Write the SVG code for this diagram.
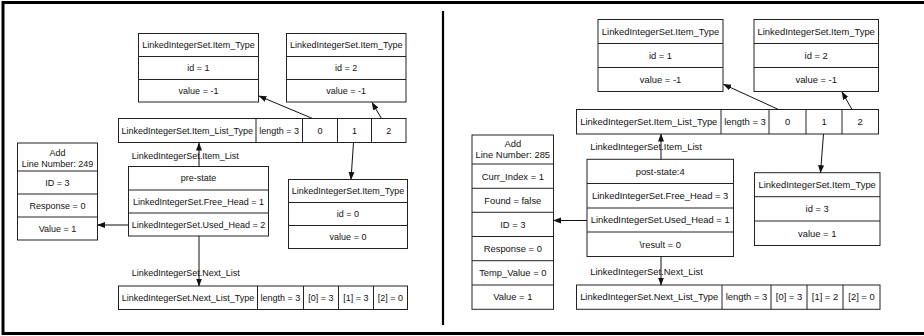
<svg xmlns="http://www.w3.org/2000/svg" width="924" height="336" viewBox="0 0 924 336">
<style>
rect.b{fill:#fff;stroke:#222;stroke-width:1}
line.d{stroke:#222;stroke-width:1}
text{font-family:"Liberation Sans",Arial,Helvetica,sans-serif;fill:#111;text-anchor:middle}
.L text{font-size:9px}
.R text{font-size:9.4px}
text.lbl{text-anchor:start}
.c line{stroke:#111;stroke-width:1;marker-end:url(#ah)}
</style>
<defs>
<marker id="ah" markerUnits="userSpaceOnUse" markerWidth="8" markerHeight="8" viewBox="0 0 8 8" refX="7.5" refY="4" orient="auto">
<path d="M0,1 L8,4 L0,7 Z" fill="#111"/>
</marker>
</defs>
<rect x="0" y="0" width="924" height="336" fill="#fff"/>
<rect x="3" y="2.5" width="930" height="331" fill="none" stroke="#000" stroke-width="3"/>
<line x1="443" y1="11" x2="443" y2="325" stroke="#000" stroke-width="2.2"/>

<g class="L">
<g id="l_item1">
<rect class="b" x="138.5" y="33.5" width="120" height="68.5"/>
<line class="d" x1="138.5" y1="56.5" x2="258.5" y2="56.5"/>
<line class="d" x1="138.5" y1="79.5" x2="258.5" y2="79.5"/>
<text x="198.5" y="48">LinkedIntegerSet.Item_Type</text>
<text x="198.5" y="71">id = 1</text>
<text x="198.5" y="94">value = -1</text>
</g>
<g id="l_item2">
<rect class="b" x="286.5" y="33.5" width="119.5" height="68.5"/>
<line class="d" x1="286.5" y1="56.5" x2="406" y2="56.5"/>
<line class="d" x1="286.5" y1="79.5" x2="406" y2="79.5"/>
<text x="346.2" y="48">LinkedIntegerSet.Item_Type</text>
<text x="346.2" y="71">id = 2</text>
<text x="346.2" y="94">value = -1</text>
</g>
<g id="l_itemlist">
<rect class="b" x="118.5" y="118.5" width="287.5" height="24"/>
<line class="d" x1="256" y1="118.5" x2="256" y2="142.5"/>
<line class="d" x1="302.5" y1="118.5" x2="302.5" y2="142.5"/>
<line class="d" x1="337.5" y1="118.5" x2="337.5" y2="142.5"/>
<line class="d" x1="371.5" y1="118.5" x2="371.5" y2="142.5"/>
<text x="187.2" y="133.8">LinkedIntegerSet.Item_List_Type</text>
<text x="279.2" y="133.8">length = 3</text>
<text x="320" y="133.8">0</text>
<text x="354.5" y="133.8">1</text>
<text x="388.8" y="133.8">2</text>
</g>
<g id="l_add">
<rect class="b" x="17.5" y="143" width="80" height="97"/>
<line class="d" x1="17.5" y1="171" x2="97.5" y2="171"/>
<line class="d" x1="17.5" y1="194" x2="97.5" y2="194"/>
<line class="d" x1="17.5" y1="217" x2="97.5" y2="217"/>
<text x="57.5" y="155.5">Add</text>
<text x="57.5" y="166.5">Line Number: 249</text>
<text x="57.5" y="185.5">ID = 3</text>
<text x="57.5" y="208.5">Response = 0</text>
<text x="57.5" y="231.5">Value = 1</text>
</g>
<g id="l_pre">
<rect class="b" x="128.5" y="166.5" width="140" height="69.5"/>
<line class="d" x1="128.5" y1="190" x2="268.5" y2="190"/>
<line class="d" x1="128.5" y1="213" x2="268.5" y2="213"/>
<text x="198.5" y="181.3">pre-state</text>
<text x="198.5" y="204.5">LinkedIntegerSet.Free_Head = 1</text>
<text x="198.5" y="227.5">LinkedIntegerSet.Used_Head = 2</text>
</g>
<g id="l_item0">
<rect class="b" x="288.5" y="179.5" width="119" height="69"/>
<line class="d" x1="288.5" y1="202.5" x2="407.5" y2="202.5"/>
<line class="d" x1="288.5" y1="225.5" x2="407.5" y2="225.5"/>
<text x="348" y="194">LinkedIntegerSet.Item_Type</text>
<text x="348" y="217">id = 0</text>
<text x="348" y="240">value = 0</text>
</g>
<g id="l_nextlist">
<rect class="b" x="118.5" y="286" width="289" height="23.5"/>
<line class="d" x1="257.5" y1="286" x2="257.5" y2="309.5"/>
<line class="d" x1="303.5" y1="286" x2="303.5" y2="309.5"/>
<line class="d" x1="338.5" y1="286" x2="338.5" y2="309.5"/>
<line class="d" x1="373.5" y1="286" x2="373.5" y2="309.5"/>
<text x="188" y="301">LinkedIntegerSet.Next_List_Type</text>
<text x="280.5" y="301">length = 3</text>
<text x="321" y="301">[0] = 3</text>
<text x="356" y="301">[1] = 3</text>
<text x="390.5" y="301">[2] = 0</text>
</g>
<g class="c" id="l_connectors">
<line x1="199" y1="166.5" x2="199" y2="143"/>
<line x1="312.5" y1="118.5" x2="259" y2="96"/>
<line x1="381.5" y1="118.5" x2="372" y2="102.5"/>
<line x1="353.5" y1="142.5" x2="351" y2="179.5"/>
<line x1="128.5" y1="225" x2="97.5" y2="225"/>
<line x1="199" y1="236" x2="199" y2="286"/>
<text class="lbl" x="131.7" y="159.2">LinkedIntegerSet.Item_List</text>
<text class="lbl" x="131.7" y="275.5">LinkedIntegerSet.Next_List</text>
</g>
</g>

<g class="R">
<g id="r_item1">
<rect class="b" x="598" y="19.5" width="125" height="72"/>
<line class="d" x1="598" y1="43.5" x2="723" y2="43.5"/>
<line class="d" x1="598" y1="67.5" x2="723" y2="67.5"/>
<text x="660.5" y="34.8">LinkedIntegerSet.Item_Type</text>
<text x="660.5" y="58.8">id = 1</text>
<text x="660.5" y="82.8">value = -1</text>
</g>
<g id="r_item2">
<rect class="b" x="754" y="19.5" width="124.5" height="72"/>
<line class="d" x1="754" y1="43.5" x2="878.5" y2="43.5"/>
<line class="d" x1="754" y1="67.5" x2="878.5" y2="67.5"/>
<text x="816.2" y="34.8">LinkedIntegerSet.Item_Type</text>
<text x="816.2" y="58.8">id = 2</text>
<text x="816.2" y="82.8">value = -1</text>
</g>
<g id="r_itemlist">
<rect class="b" x="576.5" y="109.5" width="302" height="24.5"/>
<line class="d" x1="721" y1="109.5" x2="721" y2="134"/>
<line class="d" x1="769" y1="109.5" x2="769" y2="134"/>
<line class="d" x1="806" y1="109.5" x2="806" y2="134"/>
<line class="d" x1="842" y1="109.5" x2="842" y2="134"/>
<text x="648.8" y="125">LinkedIntegerSet.Item_List_Type</text>
<text x="745" y="125">length = 3</text>
<text x="787.5" y="125">0</text>
<text x="824" y="125">1</text>
<text x="860.2" y="125">2</text>
</g>
<g id="r_add">
<rect class="b" x="472" y="135" width="81.5" height="174.3"/>
<line class="d" x1="472" y1="164" x2="553.5" y2="164"/>
<line class="d" x1="472" y1="188.3" x2="553.5" y2="188.3"/>
<line class="d" x1="472" y1="212.3" x2="553.5" y2="212.3"/>
<line class="d" x1="472" y1="236.5" x2="553.5" y2="236.5"/>
<line class="d" x1="472" y1="260.7" x2="553.5" y2="260.7"/>
<line class="d" x1="472" y1="285" x2="553.5" y2="285"/>
<text x="512.8" y="146.6">Add</text>
<text x="512.8" y="158.3">Line Number: 285</text>
<text x="512.8" y="179.5">Curr_Index = 1</text>
<text x="512.8" y="203.6">Found = false</text>
<text x="512.8" y="227.7">ID = 3</text>
<text x="512.8" y="251.9">Response = 0</text>
<text x="512.8" y="276.1">Temp_Value = 0</text>
<text x="512.8" y="300.4">Value = 1</text>
</g>
<g id="r_post">
<rect class="b" x="587" y="159.3" width="146.5" height="97.2"/>
<line class="d" x1="587" y1="183.5" x2="733.5" y2="183.5"/>
<line class="d" x1="587" y1="208" x2="733.5" y2="208"/>
<line class="d" x1="587" y1="232" x2="733.5" y2="232"/>
<text x="660.2" y="174.7">post-state:4</text>
<text x="660.2" y="199">LinkedIntegerSet.Free_Head = 3</text>
<text x="660.2" y="223.3">LinkedIntegerSet.Used_Head = 1</text>
<text x="660.2" y="247.5">\result = 0</text>
</g>
<g id="r_item3">
<rect class="b" x="754.5" y="172.7" width="125.5" height="72.8"/>
<line class="d" x1="754.5" y1="196.7" x2="880" y2="196.7"/>
<line class="d" x1="754.5" y1="221" x2="880" y2="221"/>
<text x="817.2" y="188">LinkedIntegerSet.Item_Type</text>
<text x="817.2" y="212.2">id = 3</text>
<text x="817.2" y="236.6">value = 1</text>
</g>
<g id="r_nextlist">
<rect class="b" x="576.5" y="285" width="303.5" height="24.3"/>
<line class="d" x1="722" y1="285" x2="722" y2="309.3"/>
<line class="d" x1="771" y1="285" x2="771" y2="309.3"/>
<line class="d" x1="807" y1="285" x2="807" y2="309.3"/>
<line class="d" x1="843" y1="285" x2="843" y2="309.3"/>
<text x="649.2" y="300.4">LinkedIntegerSet.Next_List_Type</text>
<text x="746.5" y="300.4">length = 3</text>
<text x="789" y="300.4">[0] = 3</text>
<text x="825" y="300.4">[1] = 2</text>
<text x="861.5" y="300.4">[2] = 0</text>
</g>
<g class="c" id="r_connectors">
<line x1="661" y1="159.3" x2="661" y2="134"/>
<line x1="778.5" y1="109.5" x2="723.5" y2="84.3"/>
<line x1="852" y1="109.5" x2="842" y2="92"/>
<line x1="823.5" y1="134" x2="820.5" y2="172.7"/>
<line x1="587" y1="220.5" x2="553.5" y2="220.5"/>
<line x1="661" y1="256.5" x2="661" y2="285"/>
<text class="lbl" x="590.3" y="150">LinkedIntegerSet.Item_List</text>
<text class="lbl" x="590.3" y="275">LinkedIntegerSet.Next_List</text>
</g>
</g>
</svg>
